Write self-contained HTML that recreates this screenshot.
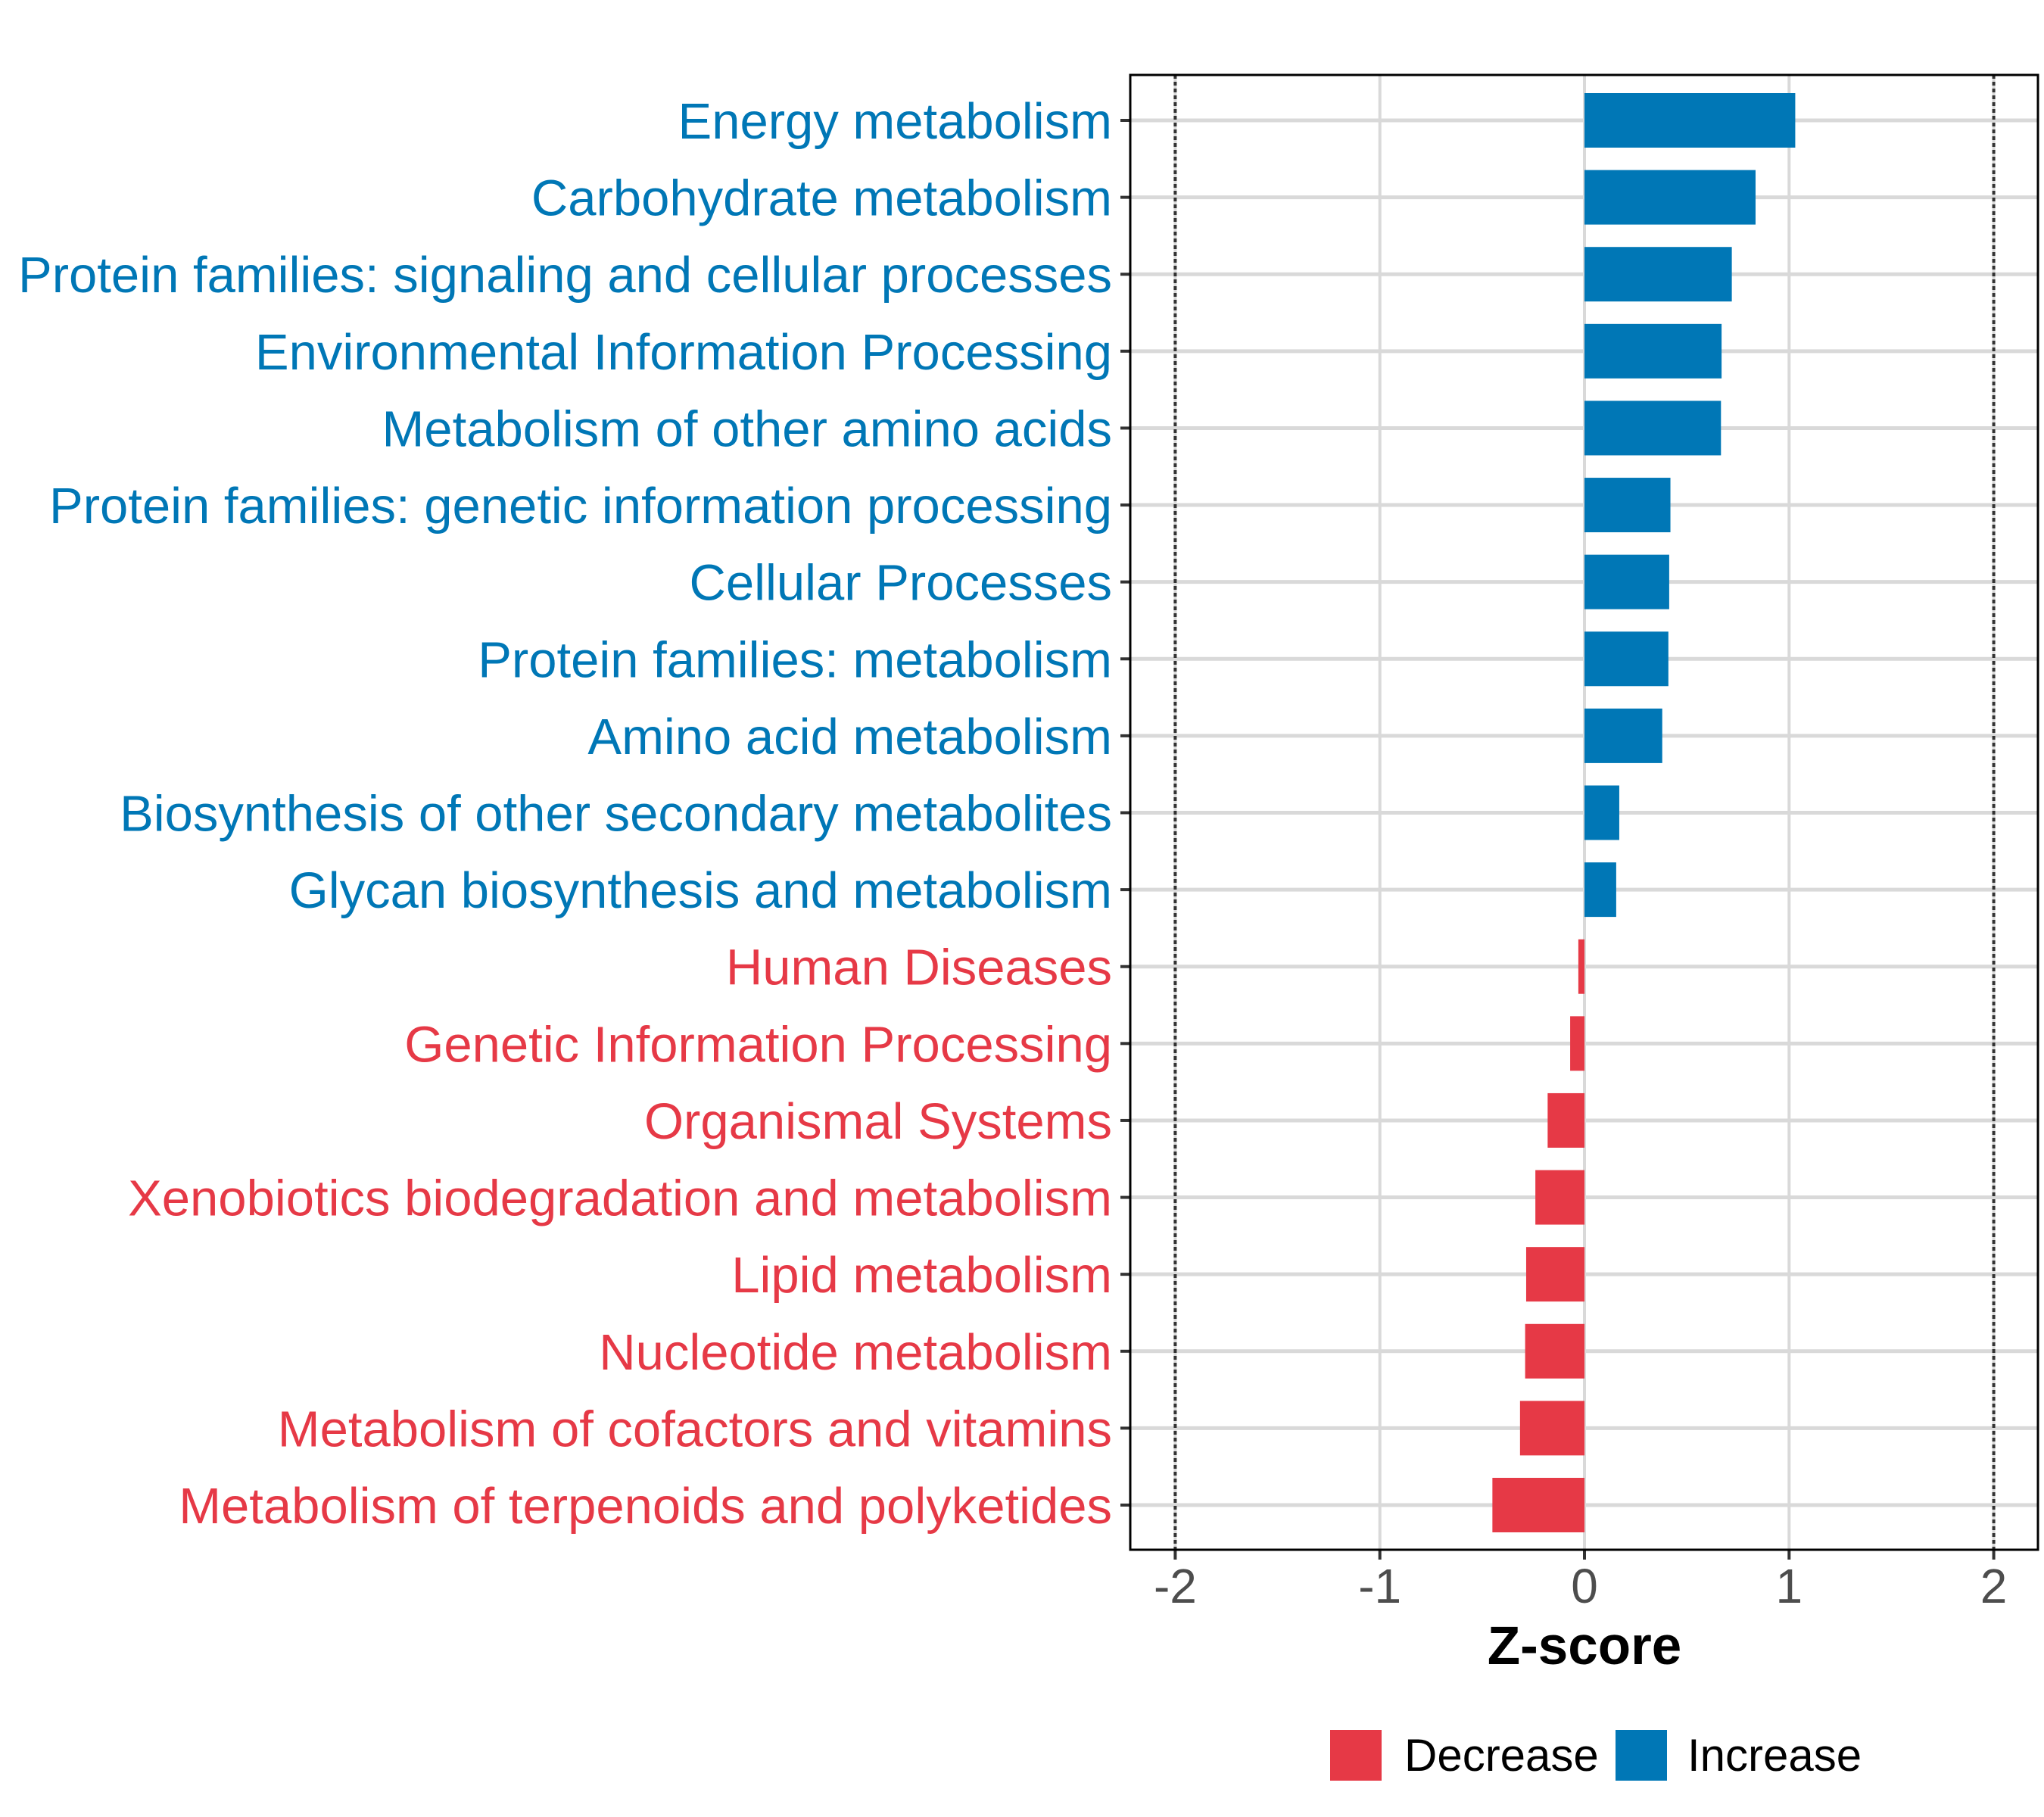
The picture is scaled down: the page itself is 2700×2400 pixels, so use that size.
<!DOCTYPE html>
<html><head><meta charset="utf-8"><style>
html,body{margin:0;padding:0;background:#fff}
svg{display:block;font-family:"Liberation Sans",sans-serif}
</style></head><body>
<svg id="chart" width="2700" height="2400" viewBox="0 0 2700 2400" xmlns="http://www.w3.org/2000/svg">
<rect x="0" y="0" width="2700" height="2400" fill="#fff"/>
<g id="grid"></g>
<g id="bars"></g>
<g id="ylabels"></g>
<g id="xaxis"></g>
<text x="2093" y="2198" font-size="71" font-weight="bold" text-anchor="middle" fill="#000">Z-score</text>
<g>
<rect x="1757" y="2285" width="68" height="67" fill="#E63946"/>
<text x="1855" y="2339" font-size="60" fill="#000">Decrease</text>
<rect x="2134" y="2285" width="68" height="67" fill="#0077B6"/>
<text x="2229" y="2339" font-size="60" fill="#000">Increase</text>
</g>
</svg>
<script>
const categories = ["Energy metabolism","Carbohydrate metabolism","Protein families: signaling and cellular processes","Environmental Information Processing","Metabolism of other amino acids","Protein families: genetic information processing","Cellular Processes","Protein families: metabolism","Amino acid metabolism","Biosynthesis of other secondary metabolites","Glycan biosynthesis and metabolism","Human Diseases","Genetic Information Processing","Organismal Systems","Xenobiotics biodegradation and metabolism","Lipid metabolism","Nucleotide metabolism","Metabolism of cofactors and vitamins","Metabolism of terpenoids and polyketides"];
const zscores = [1.03,0.836,0.72,0.67,0.667,0.42,0.414,0.41,0.38,0.17,0.155,-0.03,-0.07,-0.18,-0.24,-0.285,-0.29,-0.315,-0.45];
const xTicks = [-2,-1,0,1,2];
const xTickLabels = ["-2","-1","0","1","2"];
const thresholds = [-2,2];

const NS="http://www.w3.org/2000/svg";
const L=1493,R=2692,T=99,B=2047;
const x0=2093,ppu=270.3;
const xs=v=>x0+v*ppu;
const y0=159,step=(1988-159)/(categories.length-1);
const ys=i=>y0+i*step;
function mk(tag,attrs,parent){const e=document.createElementNS(NS,tag);for(const k in attrs)e.setAttribute(k,attrs[k]);parent.appendChild(e);return e;}
const grid=document.getElementById('grid'),bars=document.getElementById('bars'),yl=document.getElementById('ylabels'),xa=document.getElementById('xaxis');
xTicks.forEach((t,i)=>{
  const g=mk('line',{x1:xs(t),x2:xs(t),y1:T,y2:B,stroke:'#d9d9d9','stroke-width':4},grid);
  
  
  const tk=mk('line',{x1:xs(t),x2:xs(t),y1:B,y2:B+13,stroke:'#333','stroke-width':4},xa);
  
  
  const tl=mk('text',{x:xs(t),y:2117,'font-size':64,'text-anchor':'middle',fill:'#4d4d4d'},xa);
  tl.textContent=xTickLabels[i];
  
  
});
categories.forEach((c,i)=>{
  const gl=mk('line',{x1:L,x2:R,y1:ys(i),y2:ys(i),stroke:'#d9d9d9','stroke-width':5},grid);
  
  
});
thresholds.forEach(t=>{
  const d=mk('line',{x1:xs(t),x2:xs(t),y1:T,y2:B,stroke:'#333','stroke-width':4,'stroke-dasharray':'5 4'},grid);
  
  
});
const bh=72;
categories.forEach((c,i)=>{
  const v=zscores[i];
  const col=v>=0?'#0077B6':'#E63946';
  const x=Math.min(xs(0),xs(v)),w=Math.abs(xs(v)-xs(0));
  const r=mk('rect',{x:x,y:ys(i)-bh/2,width:w,height:bh,fill:col},bars);
  
  
  const t=mk('text',{x:1469,y:ys(i)+24,'font-size':67,'text-anchor':'end',fill:col},yl);
  t.textContent=c;
  
  
  const tk=mk('line',{x1:1480,x2:L,y1:ys(i),y2:ys(i),stroke:'#333','stroke-width':4},yl);
  
  
});
const fr=mk('rect',{x:L,y:T,width:R-L,height:B-T,fill:'none',stroke:'#000','stroke-width':3},document.getElementById('chart'));


</script>
</body></html>
